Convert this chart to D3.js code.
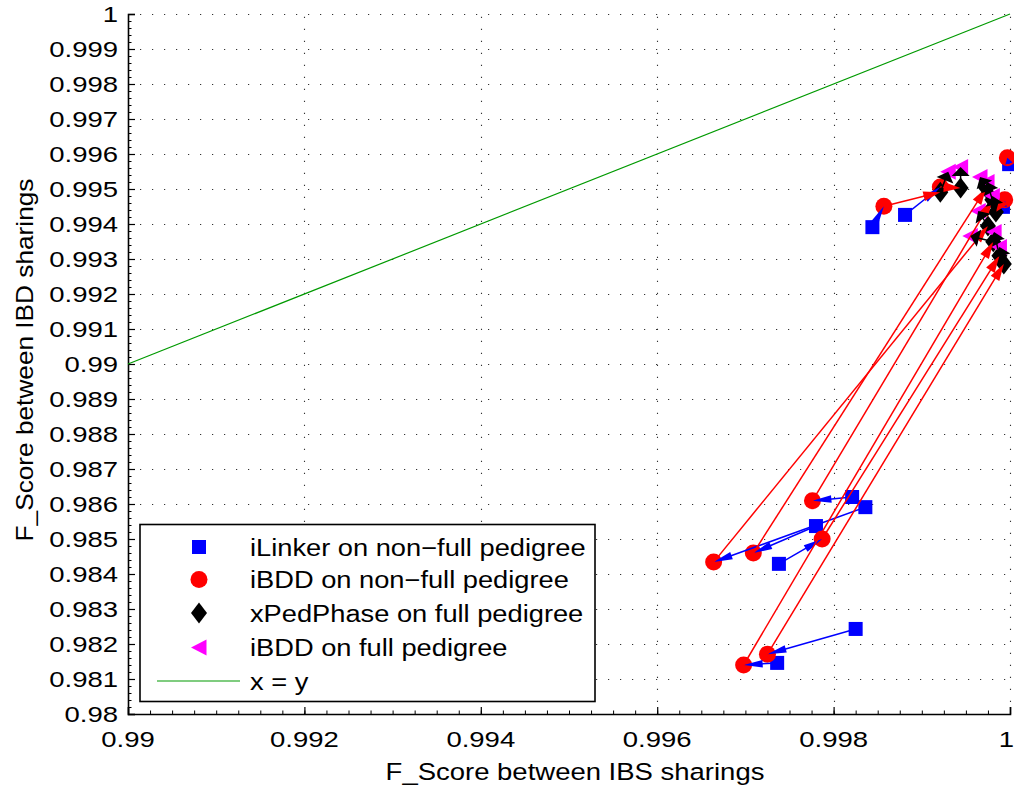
<!DOCTYPE html>
<html><head><meta charset="utf-8">
<script src="https://cdn.jsdelivr.net/npm/d3@7"></script>
<style>body{margin:0;background:#fff} text{font-family:"Liberation Sans",Arial,Helvetica,sans-serif;fill:#000}</style>
</head><body><svg id="c" width="1014" height="789"></svg>
<script>
// ---- data ----
const xTicks = [0.99, 0.992, 0.994, 0.996, 0.998, 1];
const xTickLabels = ["0.99", "0.992", "0.994", "0.996", "0.998", "1"];
const yTicks = [0.98,0.981,0.982,0.983,0.984,0.985,0.986,0.987,0.988,0.989,0.99,0.991,0.992,0.993,0.994,0.995,0.996,0.997,0.998,0.999,1];
const yTickLabels = ["0.98","0.981","0.982","0.983","0.984","0.985","0.986","0.987","0.988","0.989","0.99","0.991","0.992","0.993","0.994","0.995","0.996","0.997","0.998","0.999","1"];
const seriesNames = ["iLinker on non\u2212full pedigree","iBDD on non\u2212full pedigree","xPedPhase on full pedigree","iBDD on full pedigree","x = y"];
// iLinker on non-full pedigree
const iLinkerX = [0.99821,0.99836,0.99780,0.99738,0.99825,0.99736,0.99844,0.99881,0.99999,0.99992];
const iLinkerY = [0.98620,0.98591,0.98537,0.98429,0.98243,0.98146,0.99391,0.99426,0.99571,0.99449];
// iBDD on non-full pedigree
const iBDDnfX = [0.99776,0.99664,0.99709,0.99787,0.99725,0.99698,0.99857,0.99921,0.99997,0.99994];
const iBDDnfY = [0.98609,0.98434,0.98460,0.98500,0.98171,0.98140,0.99451,0.99506,0.99589,0.99469];
// xPedPhase on full pedigree (null = not available)
const xPedX = [0.99980,0.99975,0.99973,0.99988,0.99993,0.99981,0.99921,0.99944,null,0.99984];
const xPedY = [0.99469,0.99394,0.99503,0.99309,0.99286,0.99349,0.99491,0.99503,null,0.99434];
// iBDD on full pedigree
const iBDDfX = [0.99974,0.99964,0.99966,0.99982,0.99988,0.99955,0.99930,0.99944,null,0.99980];
const iBDDfY = [0.99520,0.99437,0.99534,0.99377,0.99334,0.99366,0.99549,0.99563,null,0.99480];
const diagX = [0.99, 1];
const diagY = [0.99, 1];

// ---- layout ----
const svg = d3.select("#c");
svg.append("rect").attr("width",1014).attr("height",789).attr("fill","#fff");
const x = d3.scaleLinear().domain([0.99,1]).range([128,1010]);
const y = d3.scaleLinear().domain([0.98,1]).range([714,14]);
const SX = 1.16, FS = 22.5, TFS = 22, TSX = 1.25;

// grid
const grid = svg.append("g").attr("stroke","#333").attr("stroke-width",1.1).attr("stroke-dasharray","1.2,10.8");
grid.selectAll("line.h").data(yTicks.slice(1)).enter().append("line")
  .attr("x1",128).attr("x2",1010).attr("y1",d=>Math.round(y(d))+0.5).attr("y2",d=>Math.round(y(d))+0.5);
grid.selectAll("line.v").data(xTicks.slice(1)).enter().append("line")
  .attr("y1",714).attr("y2",14).attr("x1",d=>Math.round(x(d))+0.5).attr("x2",d=>Math.round(x(d))+0.5);

// axes
const xAxis = d3.axisBottom(x).tickValues(xTicks).tickSize(-7).tickFormat("");
const yAxis = d3.axisLeft(y).tickValues(yTicks).tickSize(-7).tickFormat("");
const gx = svg.append("g").attr("transform","translate(0,714)").call(xAxis);
const gy = svg.append("g").attr("transform","translate(128,0)").call(yAxis);
[gx,gy].forEach(g=>{g.select(".domain").attr("stroke","#000").attr("stroke-width",1.6);g.selectAll(".tick line").attr("stroke","#000").attr("stroke-width",1.2);});
// minor ticks
const xMinor = d3.range(0,41).map(i=>0.99+i*0.00025);
const yMinor = d3.range(0,101).map(i=>0.98+i*0.0002);
svg.append("g").call(d3.axisBottom(x).tickValues(xMinor).tickSize(-3.5).tickFormat("")).attr("transform","translate(0,714)")
  .call(g=>{g.select(".domain").remove();g.selectAll("line").attr("stroke","#000");});
svg.append("g").call(d3.axisLeft(y).tickValues(yMinor).tickSize(-3.5).tickFormat("")).attr("transform","translate(128,0)")
  .call(g=>{g.select(".domain").remove();g.selectAll("line").attr("stroke","#000");});

// tick labels
svg.append("g").selectAll("text").data(yTicks).enter().append("text")
  .attr("text-anchor","end").attr("font-size",TFS)
  .attr("transform",(d)=>`translate(118,${y(d)+8}) scale(${TSX},1)`)
  .text((d,i)=>yTickLabels[i]);
svg.append("g").selectAll("text").data(xTicks).enter().append("text")
  .attr("text-anchor",(d,i)=>i===xTicks.length-1?"end":"middle").attr("font-size",TFS)
  .attr("transform",(d,i)=>`translate(${i===xTicks.length-1?1014:x(d)},747) scale(${TSX},1)`)
  .text((d,i)=>xTickLabels[i]);
svg.append("text").attr("text-anchor","middle").attr("font-size",23.5)
  .attr("transform",`translate(575,780) scale(1.17,1)`).text("F_Score between IBS sharings");
svg.append("text").attr("text-anchor","middle").attr("font-size",23)
  .attr("transform",`translate(33,360) rotate(-90) scale(1.14,1)`).text("F_Score between IBD sharings");

// diagonal
svg.append("line").attr("x1",x(diagX[0])).attr("y1",y(diagY[0])).attr("x2",x(diagX[1])).attr("y2",y(diagY[1]))
  .attr("stroke","#009a00").attr("stroke-width",1.2);

// marker shapes
function sq(g,cx,cy,c){g.append("rect").attr("x",cx-7).attr("y",cy-7).attr("width",14).attr("height",14).attr("fill",c);}
function ci(g,cx,cy,c){g.append("circle").attr("cx",cx).attr("cy",cy).attr("r",8.5).attr("fill",c);}
function di(g,cx,cy,c){g.append("path").attr("d",`M${cx},${cy-10.5}L${cx+8},${cy}L${cx},${cy+10.5}L${cx-8},${cy}Z`).attr("fill",c);}
function tl(g,cx,cy,c){g.append("path").attr("d",`M${cx-8},${cy}L${cx+7.5},${cy-8}L${cx+7.5},${cy+8}Z`).attr("fill",c);}
const ok = v => v!==null && v!==undefined;

const mk = svg.append("g");
iLinkerX.forEach((v,i)=>sq(mk,x(v),y(iLinkerY[i]),"#0000ff"));
iBDDnfX.forEach((v,i)=>ci(mk,x(v),y(iBDDnfY[i]),"#ff0000"));
xPedX.forEach((v,i)=>{ if(ok(v)) di(mk,x(v),y(xPedY[i]),"#000"); });
iBDDfX.forEach((v,i)=>{ if(ok(v)) tl(mk,x(v),y(iBDDfY[i]),"#ff00ff"); });

// arrows
function arrow(g,x1,y1,x2,y2,c,L,W){
  const dx=x2-x1, dy=y2-y1, len=Math.hypot(dx,dy); if(len<0.5) return;
  const ux=dx/len, uy=dy/len, hl=Math.min(L,len*0.9);
  const bx=x2-ux*hl, by=y2-uy*hl;
  g.append("line").attr("x1",x1).attr("y1",y1).attr("x2",bx+ux*2).attr("y2",by+uy*2).attr("stroke",c).attr("stroke-width",1.5);
  g.append("path").attr("d",`M${x2},${y2}L${bx-uy*W},${by+ux*W}L${bx+uy*W},${by-ux*W}Z`).attr("fill",c);
}
const ar = svg.append("g");
iLinkerX.forEach((v,i)=>arrow(ar,x(v),y(iLinkerY[i]),x(iBDDnfX[i]),y(iBDDnfY[i]),"#0000ff",19,3.8));
iBDDnfX.forEach((v,i)=>{ if(ok(xPedX[i])) arrow(ar,x(v),y(iBDDnfY[i]),x(xPedX[i]),y(xPedY[i]),"#ff0000",17,5); });
xPedX.forEach((v,i)=>{ if(ok(v)) arrow(ar,x(v),y(xPedY[i]),x(iBDDfX[i]),y(iBDDfY[i]),"#000",9,9); });

// legend
const lg = svg.append("g");
lg.append("rect").attr("x",140).attr("y",524.5).attr("width",455).attr("height",177).attr("fill","#fff").attr("stroke","#000").attr("stroke-width",1.6);
const rows=[547,579.5,613,647.5,681];
sq(lg,199,rows[0],"#0000ff"); ci(lg,199,rows[1],"#ff0000"); di(lg,199,rows[2],"#000"); tl(lg,199,rows[3],"#ff00ff");
lg.append("line").attr("x1",157).attr("x2",240).attr("y1",rows[4]).attr("y2",rows[4]).attr("stroke","#009a00").attr("stroke-width",1.2);
rows.forEach((r,i)=>lg.append("text").attr("font-size",FS+1).attr("transform",`translate(250,${r+8.5}) scale(${SX},1)`).text(seriesNames[i]));
</script></body></html>
